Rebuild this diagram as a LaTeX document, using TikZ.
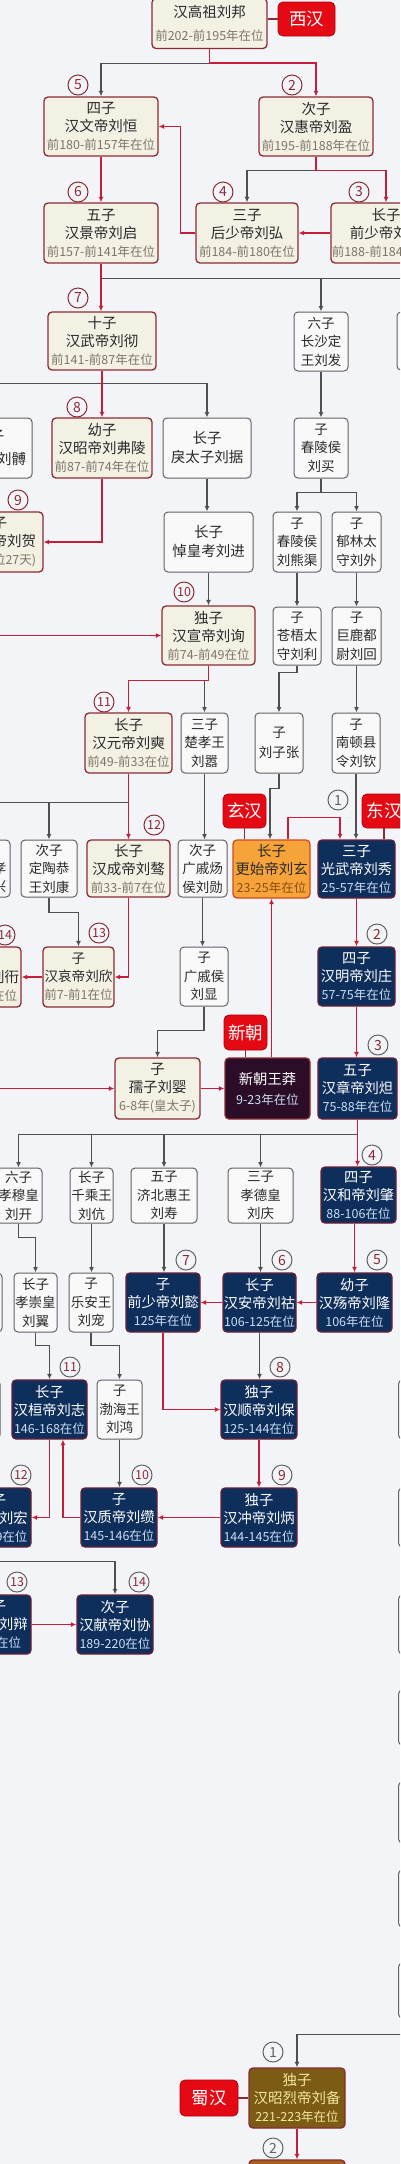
\documentclass[tikz,border=0pt]{standalone}
\usepackage{fontspec}
\setmainfont{Noto Sans CJK SC}
\usetikzlibrary{arrows.meta}
\definecolor{bgcol}{HTML}{F3F4F8}
\definecolor{xiline}{HTML}{8C2A33}
\definecolor{xifill}{HTML}{F3F0E4}
\definecolor{kinline}{HTML}{626262}
\definecolor{kinfill}{HTML}{F9F9F9}
\definecolor{navy}{HTML}{0E2E5C}
\definecolor{navyline}{HTML}{6A2036}
\definecolor{tagred}{HTML}{E50914}
\definecolor{tagedge}{HTML}{B0000C}
\definecolor{succred}{HTML}{C41E3A}
\definecolor{linkgray}{HTML}{505050}
\definecolor{mangfill}{HTML}{2B0D27}
\definecolor{orangefill}{HTML}{F6A33A}
\definecolor{orangeline}{HTML}{CF4A1F}
\definecolor{olivefill}{HTML}{7C5C15}
\definecolor{shanfill}{HTML}{A8601F}
\definecolor{ink}{HTML}{2A2A2A}
\definecolor{reignbeige}{HTML}{7E7567}
\definecolor{reignnavy}{HTML}{CBDDF2}
\definecolor{reignorange}{HTML}{8A4E0E}
\definecolor{reignolive}{HTML}{F3E6A0}
\newcommand{\reign}[2][reignbeige]{{\fontsize{12.5}{16}\selectfont\color{#1}#2}}

\begin{document}
\begin{tikzpicture}[x=1pt, y=-1pt,
  wh/.style 2 args={minimum width=#1pt, minimum height=#2pt},
  xibox/.style={draw=xiline, fill=xifill, line width=1.3pt, rounded corners=4pt, align=center,
    text=ink, inner sep=0pt, font=\fontsize{14.5}{18}\selectfont},
  kinbox/.style={draw=kinline, fill=kinfill, line width=1pt, rounded corners=4pt, align=center,
    text=ink, inner sep=0pt, font=\fontsize{13.5}{18.5}\selectfont},
  dongbox/.style={draw=navyline, fill=navy, line width=1.3pt, rounded corners=4pt, align=center,
    text=white, inner sep=0pt, font=\fontsize{14.3}{18}\selectfont},
  eratag/.style={draw=tagedge, fill=tagred, line width=0.8pt, rounded corners=5pt, text=white,
    inner sep=0pt, font=\fontsize{17.5}{17.5}\selectfont},
  seqnum/.style={circle, draw=xiline, text=xiline, line width=1pt, minimum size=20pt, inner sep=0pt,
    font=\fontsize{14}{14}\selectfont},
  dongnum/.style={seqnum, draw=kinline},
  shunum/.style={seqnum, draw=kinline, text=kinline},
  seqtwo/.style={font=\fontsize{12.5}{12.5}\selectfont},
  bloodline/.style={draw=linkgray, line width=1.1pt, -{Latex[length=5.5pt,width=5pt]}},
  succline/.style={draw=succred, line width=1.4pt, -{Latex[length=5.5pt,width=5pt]}},
  tagline/.style={draw=xiline, line width=1.2pt}]
  \useasboundingbox (0,0) rectangle (400,2164);
  \clip (0,0) rectangle (400,2164);
  \fill[bgcol] (0,0) rectangle (400,2164);

  % western han
  \node[xibox, wh={115}{50}] (gaozu) at (209.5,23.5) {汉高祖刘邦\\[5pt]\reign{前202-前195年在位}};
  \node[eratag, wh={57}{34}] (xihan) at (306.5,19) {西汉};
  \node[xibox, wh={114}{59}] (wendi) at (101,126.5) {四子\\汉文帝刘恒\\\reign{前180-前157年在位}};
  \node[xibox, wh={114}{59}] (huidi) at (316,126.5) {次子\\汉惠帝刘盈\\\reign{前195-前188年在位}};
  \node[xibox, wh={114}{60}] (jingdi) at (101,233) {五子\\汉景帝刘启\\\reign{前157-前141年在位}};
  \node[xibox, wh={102}{60}] (houshao) at (247,233) {三子\\后少帝刘弘\\\reign{前184-前180在位}};
  \node[xibox, wh={110}{60}] (qianshao) at (386,233) {长子\\前少帝刘恭\\\reign{前188-前184年在位}};
  \node[xibox, wh={108}{58}] (wudi) at (102,341) {十子\\汉武帝刘彻\\\reign{前141-前87年在位}};
  \node[kinbox, wh={54}{59}] (liufa) at (321,341.5) {六子\\长沙定\\王刘发};
  \node[kinbox, wh={66}{58}] (edgeA) at (430,341) {};
  \node[kinbox, wh={84}{60}, font=\fontsize{14.5}{18}\selectfont] (liubo) at (-10,448) {五子\\[5pt]昌邑王刘髆};
  \node[xibox, wh={100}{60}] (zhaodi) at (102,448) {幼子\\汉昭帝刘弗陵\\\reign{前87-前74年在位}};
  \node[kinbox, wh={88}{60}, font=\fontsize{14.5}{19}\selectfont] (liuju) at (207,448) {长子\\戾太子刘据};
  \node[kinbox, wh={54}{60}] (liumai) at (321,448) {子\\春陵侯\\刘买};
  \node[xibox, wh={86}{60}] (liuhe) at (0,542) {子\\汉废帝刘贺\\\reign{(仅在位27天)}};
  \node[kinbox, wh={89}{60}, font=\fontsize{14.5}{19}\selectfont] (liujin) at (208.5,542) {长子\\悼皇考刘进};
  \node[kinbox, wh={48}{60}] (xiongqu) at (297,542) {子\\春陵侯\\刘熊渠};
  \node[kinbox, wh={49}{60}] (liuwai) at (356.5,542) {子\\郁林太\\守刘外};
  \node[xibox, wh={93}{59}] (xuandi) at (208.5,635.5) {独子\\汉宣帝刘询\\\reign{前74-前49在位}};
  \node[kinbox, wh={48}{58}] (liuli) at (297,636) {子\\苍梧太\\守刘利};
  \node[kinbox, wh={49}{58}] (liuhui) at (356.5,636) {子\\巨鹿都\\尉刘回};
  \node[xibox, wh={87}{60}] (yuandi) at (128.5,743) {长子\\汉元帝刘奭\\\reign{前49-前33在位}};
  \node[kinbox, wh={47}{60}] (liuxiao) at (204.5,743) {三子\\楚孝王\\刘嚣};
  \node[kinbox, wh={48}{60}] (zizhang) at (279,743) {子\\[1.5pt]刘子张};
  \node[kinbox, wh={48}{60}] (liuqin) at (356,743) {子\\南顿县\\令刘钦};
  \node[eratag, wh={43}{34}] (xuanhan) at (244.5,811) {玄汉};
  \node[eratag, wh={44}{34}] (donghan) at (384,811) {东汉};
  \node[kinbox, wh={48}{57}] (liuxing) at (-14,868.5) {三子\\中山孝\\王刘兴};
  \node[kinbox, wh={56}{57}] (dingtao) at (49,868.5) {次子\\定陶恭\\王刘康};
  \node[xibox, wh={83}{57}] (chengdi) at (128.5,868.5) {长子\\汉成帝刘骜\\\reign{前33-前7在位}};
  \node[kinbox, wh={49}{57}] (liuxun) at (202.5,868.5) {次子\\广戚炀\\侯刘勋};
  \node[xibox, draw=orangeline, fill=orangefill, wh={77}{58}] (gengshi) at (271.5,869) {长子\\更始帝刘玄\\\reign[reignorange]{23-25年在位}};
  \node[xibox, wh={71}{60}, font=\fontsize{13.6}{18}\selectfont] (aidi) at (78.5,977) {子\\汉哀帝刘欣\\\reign{前7-前1在位}};
  \node[xibox, wh={76}{60}] (pingdi) at (-17,977) {子\\汉平帝刘衎\\\reign{前1-5年在位}};
  \node[kinbox, wh={48}{59}] (liuxian) at (204,976.5) {子\\广戚侯\\刘显};
  \node[eratag, wh={43}{35}] (xinchao) at (245.5,1032.5) {新朝};
  \node[xibox, wh={85}{61}] (ruzi) at (157.5,1088.5) {子\\孺子刘婴\\\reign{6-8年(皇太子)}};
  \node[dongbox, fill=mangfill, draw=xiline, wh={85}{61}] (wangmang) at (267.5,1088.5) {新朝王莽\\[2pt]\reign[reignnavy]{9-23年在位}};

  % eastern han
  \node[dongbox, wh={77}{58}] (guangwu) at (356.5,869) {三子\\光武帝刘秀\\\reign[reignnavy]{25-57年在位}};
  \node[dongbox, wh={77}{59}] (mingdi) at (356.5,976.5) {四子\\汉明帝刘庄\\\reign[reignnavy]{57-75年在位}};
  \node[dongbox, wh={79}{61}] (zhangdi) at (357.5,1088.5) {五子\\汉章帝刘炟\\\reign[reignnavy]{75-88年在位}};
  \node[kinbox, wh={47}{55}] (liukai) at (18.5,1195.5) {六子\\孝穆皇\\刘开};
  \node[kinbox, wh={43}{55}] (qiancheng) at (91.5,1195.5) {长子\\千乘王\\刘伉};
  \node[kinbox, wh={66}{55}] (liushou) at (164,1195.5) {五子\\济北惠王\\刘寿};
  \node[kinbox, wh={65}{55}] (liuqing) at (260.5,1195.5) {三子\\孝德皇\\刘庆};
  \node[dongbox, wh={75}{56}] (hedi) at (358.5,1195) {四子\\汉和帝刘肇\\\reign[reignnavy]{88-106在位}};
  \node[kinbox, wh={64}{59}] (edgeB) at (-30,1302.5) {};
  \node[kinbox, wh={43}{59}] (liuyi) at (35.5,1302.5) {长子\\孝崇皇\\刘翼};
  \node[kinbox, wh={44}{59}] (liuchong) at (91,1302.5) {子\\乐安王\\刘宠};
  \node[dongbox, wh={74}{59}] (shaodiyi) at (163,1302.5) {子\\前少帝刘懿\\\reign[reignnavy]{125年在位}};
  \node[dongbox, wh={73}{59}] (andi) at (259.5,1302.5) {长子\\汉安帝刘祜\\\reign[reignnavy]{106-125在位}};
  \node[dongbox, wh={75}{59}] (shangdi) at (354.5,1302.5) {幼子\\汉殇帝刘隆\\\reign[reignnavy]{106年在位}};
  \node[kinbox, wh={70}{59}] (edgeC) at (-35,1409.5) {};
  \node[dongbox, wh={75}{59}] (huandi) at (49.5,1409.5) {长子\\汉桓帝刘志\\\reign[reignnavy]{146-168在位}};
  \node[kinbox, wh={45}{59}] (liuhong) at (119.5,1409.5) {子\\渤海王\\刘鸿};
  \node[dongbox, wh={76}{59}] (shundi) at (259,1409.5) {独子\\汉顺帝刘保\\\reign[reignnavy]{125-144在位}};
  \node[dongbox, wh={78}{59}] (lingdi) at (-8,1517.5) {独子\\汉灵帝刘宏\\\reign[reignnavy]{168-189在位}};
  \node[dongbox, wh={76}{59}] (zhidi) at (119,1517.5) {子\\汉质帝刘缵\\\reign[reignnavy]{145-146在位}};
  \node[dongbox, wh={76}{59}] (chongdi) at (259,1517.5) {独子\\汉冲帝刘炳\\\reign[reignnavy]{144-145在位}};
  \node[dongbox, wh={78}{59}] (shaodibian) at (-8,1624.5) {长子\\汉少帝刘辩\\\reign[reignnavy]{189年在位}};
  \node[dongbox, wh={76}{59}] (xiandi) at (115,1624.5) {次子\\汉献帝刘协\\\reign[reignnavy]{189-220在位}};

  % right column, cut by the edge
  \node[kinbox, wh={83}{59}] (rcol1) at (440,1409.5) {};
  \node[kinbox, wh={83}{59}] (rcol2) at (440,1517.5) {};
  \node[kinbox, wh={83}{59}] (rcol3) at (440,1624.5) {};
  \node[kinbox, wh={83}{55}] (rcol4) at (440,1717.5) {};
  \node[kinbox, wh={83}{61}] (rcol5) at (440,1812.5) {};
  \node[kinbox, wh={83}{57}] (rcol6) at (440,1898.5) {};
  \node[kinbox, wh={83}{55}] (rcol7) at (440,1990.5) {};

  % shu han
  \node[xibox, fill=olivefill, text=reignolive, wh={96}{60}] (liubei) at (297,2098) {独子\\汉昭烈帝刘备\\\reign[reignolive]{221-223年在位}};
  \node[eratag, wh={58}{36}] (shuhan) at (209,2098) {蜀汉};
  \node[xibox, fill=shanfill, wh={96}{60}] (liushan) at (297,2190) {};

  % order numbers
  \node[seqnum] (xi2) at (292,85) {2};
  \node[seqnum] (xi3) at (359,192) {3};
  \node[seqnum] (xi4) at (223,192) {4};
  \node[seqnum] (xi5) at (78,85) {5};
  \node[seqnum] (xi6) at (78,192) {6};
  \node[seqnum] (xi7) at (78,298) {7};
  \node[seqnum] (xi8) at (77,407) {8};
  \node[seqnum] (xi9) at (18,500) {9};
  \node[seqnum, seqtwo] (xi10) at (184,592) {10};
  \node[seqnum, seqtwo] (xi11) at (104,702) {11};
  \node[seqnum, seqtwo] (xi12) at (154,825) {12};
  \node[seqnum, seqtwo] (xi13) at (99,933) {13};
  \node[seqnum, seqtwo] (xi14) at (5,935) {14};
  \node[shunum] (dong1) at (338,800) {1};
  \node[dongnum] (dong2) at (377,934) {2};
  \node[dongnum] (dong3) at (378,1045) {3};
  \node[dongnum] (dong4) at (372,1155) {4};
  \node[dongnum] (dong5) at (377,1260) {5};
  \node[dongnum] (dong6) at (282,1260) {6};
  \node[dongnum] (dong7) at (186,1260) {7};
  \node[dongnum] (dong8) at (280,1367) {8};
  \node[dongnum] (dong9) at (282,1475) {9};
  \node[dongnum, seqtwo] (dong10) at (142,1475) {10};
  \node[dongnum, seqtwo] (dong11) at (70,1367) {11};
  \node[dongnum, seqtwo] (dong12) at (21,1475) {12};
  \node[dongnum, seqtwo] (dong13) at (17,1582) {13};
  \node[dongnum, seqtwo] (dong14) at (139,1582) {14};
  \node[shunum] (shu1) at (273,2052) {1};
  \node[shunum] (shu2) at (273,2148) {2};

  % era tags
  \draw[tagline] (xihan.west) -- (xihan.west -| gaozu.east);
  \draw[tagline] (xuanhan.south) -- (xuanhan.south |- gengshi.north);
  \draw[tagline] (donghan.south) -- (donghan.south |- guangwu.north);
  \draw[tagline] (xinchao.south) -- (xinchao.south |- wangmang.north);
  \draw[tagline] (shuhan.east) -- (liubei.west);

  % father to son
  \draw[bloodline] (gaozu.south) -- ++(0,14) -| (wendi.north);
  \draw[bloodline] (huidi.south) -- ++(0,14) -| (houshao.north);
  \draw[bloodline] (jingdi.south) -- ++(0,15) -| (liufa.north);
  \draw[bloodline] (jingdi.south) -- ++(0,15) -| (edgeA.north);
  \draw[bloodline] (wudi.south) -- ++(0,13) -| (liubo.north);
  \draw[bloodline] (wudi.south) -- ++(0,13) -| (liuju.north);
  \draw[bloodline] (liufa.south) -- (liumai.north);
  \draw[bloodline] (liumai.south) -- ++(0,14) -| (xiongqu.north);
  \draw[bloodline] (liumai.south) -- ++(0,14) -| (liuwai.north);
  \draw[bloodline] (liuju.south) -- (liuju.south |- liujin.north);
  \draw[bloodline] (liujin.south) -- (xuandi.north);
  \draw[bloodline] (xiongqu.south) -- (liuli.north);
  \draw[bloodline] (liuwai.south) -- (liuhui.north);
  \draw[bloodline] (liuli.south) -- ++(0,7) -| (zizhang.north);
  \draw[bloodline] (liuhui.south) -- (liuhui.south |- liuqin.north);
  \draw[bloodline] (xuandi.south) -- ++(0,15) -| (liuxiao.north);
  \draw[bloodline] (yuandi.south) -- ++(0,29) -| (dingtao.north);
  \draw[bloodline] (yuandi.south) -- ++(0,29) -| (liuxing.north);
  \draw[bloodline] (liuxiao.south) -- (liuxiao.south |- liuxun.north);
  \draw[bloodline] (zizhang.south) -- ++(0,15) -| ([xshift=-1.5pt]gengshi.north);
  \draw[bloodline] (liuqin.south) -- (liuqin.south |- guangwu.north);
  \draw[bloodline] (dingtao.south) -- ++(0,15) -| (aidi.north);
  \draw[bloodline] (liuxun.south) -- (liuxun.south |- liuxian.north);
  \draw[bloodline] (liuxian.south) -- ++(0,24) -| (ruzi.north);
  \draw[bloodline] (zhangdi.south) -- ++(0,14.5) -| (liukai.north);
  \draw[bloodline] (zhangdi.south) -- ++(0,14.5) -| (qiancheng.north);
  \draw[bloodline] (zhangdi.south) -- ++(0,14.5) -| (liushou.north);
  \draw[bloodline] (zhangdi.south) -- ++(0,14.5) -| (liuqing.north);
  \draw[bloodline] (liukai.south) -- ++(0,14) -| (liuyi.north);
  \draw[bloodline] (qiancheng.south) -- (qiancheng.south |- liuchong.north);
  \draw[bloodline] (liushou.south) -- (liushou.south |- shaodiyi.north);
  \draw[bloodline] (liuqing.south) -- (liuqing.south |- andi.north);
  \draw[bloodline] (liuyi.south) -- ++(0,13) -| (huandi.north);
  \draw[bloodline] (liuchong.south) -- ++(0,13) -| (liuhong.north);
  \draw[bloodline] (andi.south) -- (andi.south |- shundi.north);
  \draw[bloodline] (liuhong.south) -- (liuhong.south |- zhidi.north);
  \draw[bloodline] (lingdi.south) -- ++(0,14) -| (xiandi.north);
  \draw[bloodline] (lingdi.south) -- (shaodibian.north);
  \draw[bloodline] (rcol7.south) -- ++(0,16) -| (liubei.north);

  % succession
  \draw[succline] (gaozu.south) -- ++(0,14) -| (huidi.north);
  \draw[succline] (huidi.south) -- ++(0,14) -| (qianshao.north);
  \draw[succline] (qianshao.west) -- (houshao.east);
  \draw[succline] (houshao.west) -- ++(-15,0) |- (wendi.east);
  \draw[succline] (wendi.south) -- (jingdi.north);
  \draw[succline] (jingdi.south) -- (jingdi.south |- wudi.north);
  \draw[succline] (wudi.south) -- (zhaodi.north);
  \draw[succline] (zhaodi.south) |- (liuhe.east);
  \draw[succline] (liuhe.west) -- ++(-8,0) |- (xuandi.west);
  \draw[succline] (xuandi.south) -- ++(0,15) -| (yuandi.north);
  \draw[succline] (yuandi.south) -- (chengdi.north);
  \draw[succline] (chengdi.south) |- (aidi.east);
  \draw[succline] (aidi.west) -- (pingdi.east);
  \draw[succline] (pingdi.west) -- ++(-8,0) |- (ruzi.west);
  \draw[succline] (ruzi.east) -- (wangmang.west);
  \draw[succline] (wangmang.north -| gengshi.south) -- (gengshi.south);
  \draw[succline] ([xshift=16.5pt]gengshi.north) -- ++(0,-22) -| ([xshift=-16.5pt]guangwu.north);
  \draw[succline] (guangwu.south) -- (mingdi.north);
  \draw[succline] (mingdi.south) -- (mingdi.south |- zhangdi.north);
  \draw[succline] (zhangdi.south) -- (zhangdi.south |- hedi.north);
  \draw[succline] (shangdi.north |- hedi.south) -- (shangdi.north);
  \draw[succline] (shangdi.west) -- (andi.east);
  \draw[succline] (andi.west) -- (shaodiyi.east);
  \draw[succline] (shaodiyi.south) |- (shundi.west);
  \draw[succline] (shundi.south) -- (chongdi.north);
  \draw[succline] (chongdi.west) -- (zhidi.east);
  \draw[succline] (zhidi.west) -| ([xshift=13.5pt]huandi.south);
  \draw[succline] (huandi.south) |- (lingdi.east);
  \draw[succline] (shaodibian.east) -- (xiandi.west);
  \draw[succline] (liubei.south) -- (liushan.north);
\end{tikzpicture}
\end{document}
